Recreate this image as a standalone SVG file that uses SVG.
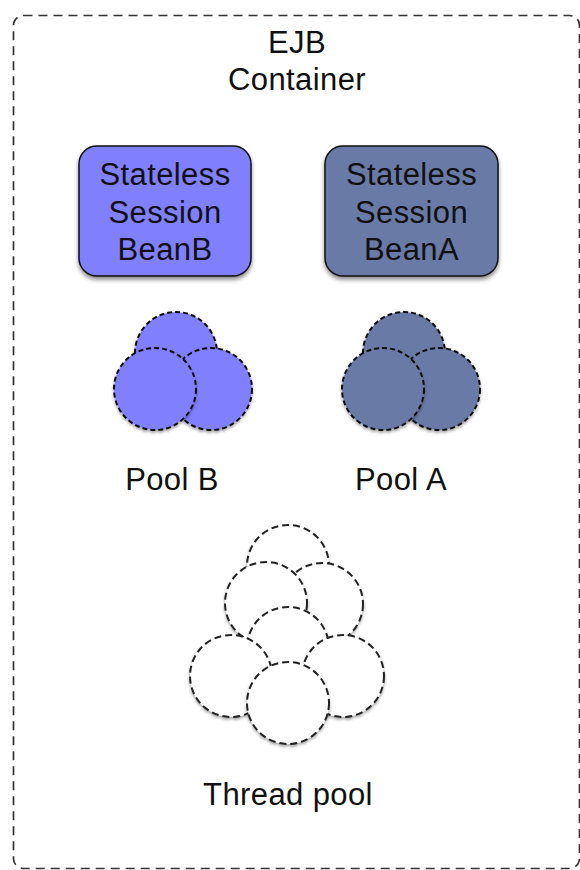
<svg xmlns="http://www.w3.org/2000/svg" width="580" height="870" viewBox="0 0 580 870">
  <defs>
    <filter id="shadow" x="-20%" y="-20%" width="140%" height="150%">
      <feDropShadow dx="0" dy="3" stdDeviation="2" flood-color="#000" flood-opacity="0.45"/>
    </filter>
    <filter id="softShadow" x="-20%" y="-20%" width="140%" height="150%">
      <feDropShadow dx="0" dy="2" stdDeviation="1.5" flood-color="#000" flood-opacity="0.35"/>
    </filter>
  </defs>
  <style>
    text { font-family: "Liberation Sans", Arial, Helvetica, sans-serif; font-size: 31px; letter-spacing: 0.4px; fill: #111; text-anchor: middle; }
    .container { fill: #fff; stroke: #333; stroke-width: 1.7; stroke-dasharray: 9 6; }
    .bean { stroke: #111; stroke-width: 1.5; filter: url(#shadow); }
    .beanB { fill: #8080ff; }
    .beanA { fill: #6a7aa6; }
    .inst { stroke: #111; stroke-width: 2; stroke-dasharray: 5 3; filter: url(#softShadow); }
    .instB { fill: #8080ff; }
    .instA { fill: #6a7aa6; }
    .thread { fill: #fff; stroke: #222; stroke-width: 2; stroke-dasharray: 7 4; filter: url(#softShadow); }
  </style>

  <!-- EJB container boundary -->
  <g id="container">
    <rect class="container" x="13.5" y="15.5" width="566" height="853" rx="10"/>
    <text x="297" y="53">EJB</text>
    <text x="297" y="90">Container</text>
  </g>

  <!-- session beans -->
  <g id="beanB">
    <rect class="bean beanB" x="79" y="146" width="172" height="130" rx="18"/>
    <text x="165" y="185">Stateless</text>
    <text x="165" y="223">Session</text>
    <text x="165" y="260">BeanB</text>
  </g>
  <g id="beanA">
    <rect class="bean beanA" x="325" y="146" width="173" height="130" rx="18"/>
    <text x="411.5" y="185">Stateless</text>
    <text x="411.5" y="223">Session</text>
    <text x="411.5" y="260">BeanA</text>
  </g>

  <!-- bean instance pools -->
  <g id="poolB">
    <circle class="inst instB" cx="176" cy="353" r="41"/>
    <circle class="inst instB" cx="211" cy="389" r="41"/>
    <circle class="inst instB" cx="155" cy="389" r="41"/>
    <text x="172" y="490">Pool B</text>
  </g>
  <g id="poolA">
    <circle class="inst instA" cx="404" cy="353" r="41"/>
    <circle class="inst instA" cx="439" cy="389" r="41"/>
    <circle class="inst instA" cx="383" cy="389" r="41"/>
    <text x="401" y="490">Pool A</text>
  </g>

  <!-- container thread pool -->
  <g id="threadPool">
    <circle class="thread" cx="288" cy="566" r="41"/>
    <circle class="thread" cx="322" cy="604" r="41"/>
    <circle class="thread" cx="266" cy="603" r="41"/>
    <circle class="thread" cx="288" cy="648" r="41"/>
    <circle class="thread" cx="231" cy="676" r="41"/>
    <circle class="thread" cx="343" cy="676" r="41"/>
    <circle class="thread" cx="288" cy="703" r="41"/>
    <text x="288" y="805">Thread pool</text>
  </g>

  <g id="connectors"/>
</svg>
